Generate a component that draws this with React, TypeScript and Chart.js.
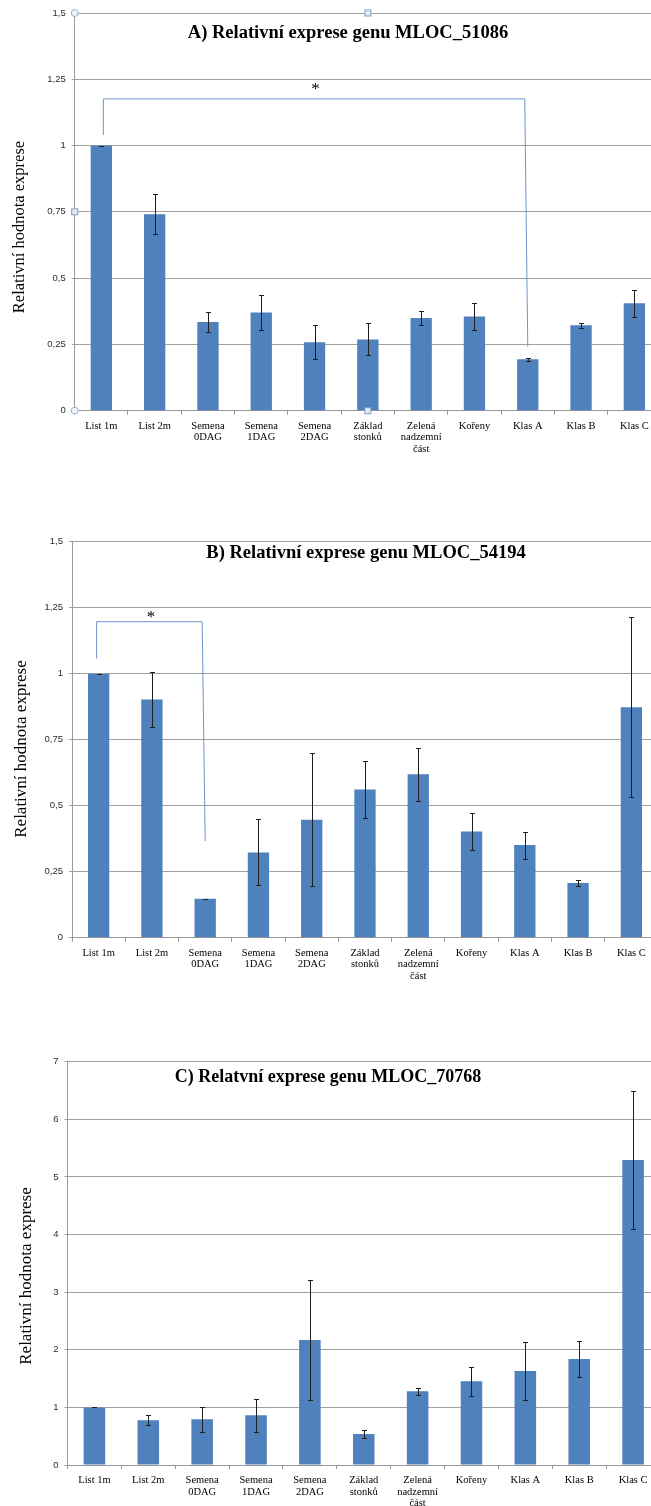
import React, { useEffect, useRef } from 'react';
import { Chart, registerables } from 'chart.js';
Chart.register(...registerables);

// ---------- data ----------
const categories = [
  ['List 1m'], ['List 2m'], ['Semena', '0DAG'], ['Semena', '1DAG'], ['Semena', '2DAG'],
  ['Základ', 'stonků'], ['Zelená', 'nadzemní', 'část'], ['Kořeny'], ['Klas A'], ['Klas B'], ['Klas C'],
];

const valuesA = [1.0, 0.741, 0.335, 0.370, 0.258, 0.269, 0.350, 0.355, 0.194, 0.322, 0.405];
const errorsA = [0, 0.075, 0.038, 0.065, 0.064, 0.060, 0.025, 0.050, 0.005, 0.010, 0.051];

const valuesB = [1.0, 0.902, 0.148, 0.323, 0.447, 0.561, 0.619, 0.402, 0.351, 0.207, 0.873];
const errorsB = [0, 0.104, 0, 0.125, 0.253, 0.108, 0.100, 0.070, 0.051, 0.012, 0.341];

const valuesC = [1.0, 0.776, 0.793, 0.862, 2.170, 0.538, 1.279, 1.453, 1.632, 1.840, 5.295];
const errorsC = [0, 0.086, 0.220, 0.290, 1.045, 0.075, 0.063, 0.255, 0.500, 0.310, 1.200];

const yTicksAB = ['0', '0,25', '0,5', '0,75', '1', '1,25', '1,5'];
const yTicksC = ['0', '1', '2', '3', '4', '5', '6', '7'];

const titleA = 'A) Relativní exprese genu MLOC_51086';
const titleB = 'B) Relativní exprese genu MLOC_54194';
const titleC = 'C) Relatvní exprese genu MLOC_70768';
const axisTitle = 'Relativní hodnota exprese';

// significance brackets: [from category, to category], [left foot, top, right foot, star]
const bracketCatsA = [0, 8];
const bracketLevelsA = [1.04, 1.176, 0.242, 1.226];
const bracketCatsB = [0, 2];
const bracketLevelsB = [1.058, 1.197, 0.366, 1.225];

// ---------- layout ----------
const W = 670;

type Cfg = {
  top: number; height: number; plotTop: number; plotBottom: number; plotLeft: number; plotRight: number;
  yMax: number; yStep: number; yTicks: string[]; values: number[]; errors: number[];
  title: string; titleX: number; titleBase: number; titleSize: number;
  axisX: number; axisY: number; axisSize: number;
  bracketCats?: number[]; bracketLevels?: number[]; bracketShift?: number; handles?: boolean;
};

const configs: Cfg[] = [
  {
    top: 0, height: 470, plotTop: 13, plotBottom: 410.7, plotLeft: 74.7, plotRight: 661,
    yMax: 1.5, yStep: 0.25, yTicks: yTicksAB, values: valuesA, errors: errorsA,
    title: titleA, titleX: 348, titleBase: 37.5, titleSize: 18.5,
    axisX: 20, axisY: 227, axisSize: 16.5,
    bracketCats: bracketCatsA, bracketLevels: bracketLevelsA, bracketShift: 2, handles: true,
  },
  {
    top: 490, height: 500, plotTop: 541.7, plotBottom: 937.7, plotLeft: 72, plotRight: 658,
    yMax: 1.5, yStep: 0.25, yTicks: yTicksAB, values: valuesB, errors: errorsB,
    title: titleB, titleX: 366, titleBase: 557.5, titleSize: 18.5,
    axisX: 22, axisY: 749, axisSize: 17,
    bracketCats: bracketCatsB, bracketLevels: bracketLevelsB, bracketShift: -2,
  },
  {
    top: 1000, height: 506, plotTop: 1061.7, plotBottom: 1465, plotLeft: 67.5, plotRight: 660,
    yMax: 7, yStep: 1, yTicks: yTicksC, values: valuesC, errors: errorsC,
    title: titleC, titleX: 328, titleBase: 1082, titleSize: 18,
    axisX: 27, axisY: 1276, axisSize: 17,
  },
];

function BarChart({ cfg }: { cfg: Cfg }) {
  const ref = useRef<HTMLCanvasElement>(null);
  useEffect(() => {
    const overlay = {
      id: 'overlay',
      afterDatasetsDraw(chart: any) {
        const ctx = chart.ctx;
        const ys = chart.scales.y;
        const meta = chart.getDatasetMeta(0);
        ctx.save();
        ctx.strokeStyle = '#1e1e1e';
        ctx.lineWidth = 1;
        meta.data.forEach((el: any, i: number) => {
          const v = cfg.values[i];
          const e = cfg.errors[i];
          const x = Math.round(el.x) + 0.5;
          const yt = Math.round(ys.getPixelForValue(v + e)) + 0.5;
          const yb = Math.round(ys.getPixelForValue(v - e)) + 0.5;
          ctx.beginPath();
          ctx.moveTo(x, yt); ctx.lineTo(x, yb);
          ctx.moveTo(x - 2.5, yt); ctx.lineTo(x + 2.5, yt);
          ctx.moveTo(x - 2.5, yb); ctx.lineTo(x + 2.5, yb);
          ctx.stroke();
        });
        ctx.restore();
      },
      afterDraw(chart: any) {
        const ctx = chart.ctx;
        const xs = chart.scales.x;
        const ys = chart.scales.y;
        const area = chart.chartArea;
        ctx.save();
        // chart title (inside the plot)
        ctx.fillStyle = '#000';
        ctx.font = `bold ${cfg.titleSize}px "Liberation Serif", "Times New Roman", serif`;
        ctx.textAlign = 'center';
        ctx.textBaseline = 'alphabetic';
        ctx.fillText(cfg.title, cfg.titleX, cfg.titleBase - cfg.top);
        // y axis title
        ctx.save();
        ctx.translate(cfg.axisX, cfg.axisY - cfg.top);
        ctx.rotate(-Math.PI / 2);
        ctx.font = `${cfg.axisSize}px "Liberation Serif", "Times New Roman", serif`;
        ctx.textBaseline = 'middle';
        ctx.fillText(axisTitle, 0, 0);
        ctx.restore();
        // significance bracket
        if (cfg.bracketCats && cfg.bracketLevels) {
          const [a, b] = cfg.bracketCats;
          const [lb, tp, rb, st] = cfg.bracketLevels;
          const xa = xs.getPixelForValue(a) + (cfg.bracketShift || 0);
          const xb = xs.getPixelForValue(b);
          ctx.strokeStyle = '#6E96CB';
          ctx.lineWidth = 1;
          ctx.beginPath();
          ctx.moveTo(xa, ys.getPixelForValue(lb));
          ctx.lineTo(xa, ys.getPixelForValue(tp));
          ctx.lineTo(xb - 3, ys.getPixelForValue(tp));
          ctx.lineTo(xb, ys.getPixelForValue(rb));
          ctx.stroke();
          ctx.fillStyle = '#000';
          ctx.font = '17px "Liberation Serif", "Times New Roman", serif';
          ctx.textAlign = 'center';
          ctx.textBaseline = 'alphabetic';
          ctx.fillText('*', (xa + xb) / 2, ys.getPixelForValue(st) + 8);
        }
        // selection handles
        if (cfg.handles) {
          const midX = (area.left + area.right) / 2;
          const midY = (area.top + area.bottom) / 2;
          ctx.lineWidth = 1;
          const circle = (x: number, y: number) => {
            ctx.beginPath();
            ctx.arc(x, y, 3.5, 0, Math.PI * 2);
            ctx.fillStyle = '#EEF3F8';
            ctx.fill();
            ctx.strokeStyle = '#9AAFC4';
            ctx.stroke();
          };
          const square = (x: number, y: number) => {
            ctx.fillStyle = '#E2EBF5';
            ctx.fillRect(x - 3, y - 3, 6, 6);
            ctx.strokeStyle = '#7E9FC2';
            ctx.strokeRect(x - 3, y - 3, 6, 6);
          };
          circle(area.left, area.top);
          circle(area.left, area.bottom);
          square(midX, area.top);
          square(midX, area.bottom);
          square(area.left, midY);
        }
        ctx.restore();
      },
    };

    const xHeight = cfg.top + cfg.height - cfg.plotBottom;
    const chart = new Chart(ref.current as HTMLCanvasElement, {
      type: 'bar',
      data: {
        labels: categories as any,
        datasets: [{
          data: cfg.values,
          backgroundColor: '#4F81BD',
          borderWidth: 0,
          barPercentage: 0.4,
          categoryPercentage: 1,
        }],
      },
      options: {
        responsive: false,
        animation: false,
        devicePixelRatio: 1,
        layout: { padding: { top: cfg.plotTop - cfg.top, left: 0, right: W - cfg.plotRight, bottom: 0 } },
        plugins: { legend: { display: false }, tooltip: { enabled: false }, title: { display: false } },
        scales: {
          x: {
            grid: { drawOnChartArea: false, drawTicks: true, tickLength: 4, offset: true, color: '#999' },
            border: { color: '#999' },
            ticks: {
              color: '#000',
              font: { family: '"Liberation Serif", "Times New Roman", serif', size: 10.5, lineHeight: 1.08 },
              padding: 6, maxRotation: 0, minRotation: 0, autoSkip: false,
            },
            afterFit: (s: any) => { s.height = xHeight; },
          },
          y: {
            min: 0,
            max: cfg.yMax,
            ticks: {
              stepSize: cfg.yStep,
              color: '#2b2b2b',
              font: { family: '"Liberation Sans", Arial, sans-serif', size: 9.5 },
              padding: 6,
              callback: (_v: any, i: number) => cfg.yTicks[i],
            },
            grid: { color: '#A0A0A0', tickLength: 3 },
            border: { color: '#999' },
            afterFit: (s: any) => { s.width = cfg.plotLeft; },
          },
        },
      } as any,
      plugins: [overlay],
    });
    return () => chart.destroy();
  }, []);
  return (
    <canvas
      ref={ref}
      width={W}
      height={cfg.height}
      style={{ position: 'absolute', left: 0, top: cfg.top, width: W, height: cfg.height }}
    />
  );
}

export default function App() {
  return (
    <div style={{ position: 'absolute', left: 0, top: 0, width: 651, height: 1506, overflow: 'hidden', background: '#fff' }}>
      {configs.map((c, i) => <BarChart key={i} cfg={c} />)}
    </div>
  );
}
